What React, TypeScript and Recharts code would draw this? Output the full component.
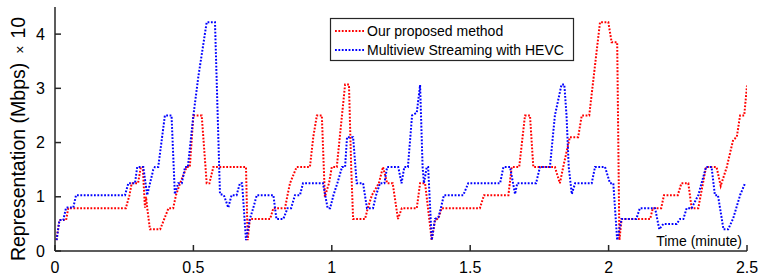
import React from "react";
import { Line, LineChart, XAxis, YAxis } from "recharts";

const timeTicks = [0, 0.5, 1, 1.5, 2, 2.5];
const rateTicks = [0, 1, 2, 3, 4];

const seriesNames = ["Our proposed method", "Multiview Streaming with HEVC"];
const seriesColors = ["#ff0000", "#0000ff"];

// [minute, representation] corner points
const proposedPoints: [number, number][] = [
  [0.005, 0.2], [0.016, 0.57], [0.04, 0.57], [0.048, 0.79], [0.256, 0.79],
  [0.269, 1.03], [0.277, 1.25], [0.3, 1.25], [0.31, 1.55], [0.317, 1.55],
  [0.325, 0.8], [0.329, 1.0], [0.333, 0.8], [0.343, 0.4], [0.38, 0.4],
  [0.41, 0.79], [0.427, 0.79], [0.437, 1.03], [0.452, 1.25], [0.476, 1.55],
  [0.487, 1.55], [0.5, 2.5], [0.53, 2.5], [0.548, 1.25], [0.558, 1.25],
  [0.572, 1.55], [0.69, 1.55], [0.696, 0.2], [0.704, 0.59], [0.777, 0.59],
  [0.789, 0.79], [0.831, 0.79], [0.84, 1.03], [0.849, 1.25], [0.873, 1.55],
  [0.921, 1.55], [0.933, 2.1], [0.946, 2.5], [0.964, 2.5], [0.975, 1.0],
  [0.99, 1.25], [1.0, 1.55], [1.018, 1.55], [1.048, 3.07], [1.062, 3.07],
  [1.07, 1.55], [1.077, 0.59], [1.12, 0.59], [1.13, 0.79], [1.145, 1.03],
  [1.17, 1.25], [1.185, 1.55], [1.2, 1.25], [1.22, 1.25], [1.239, 0.59],
  [1.253, 0.79], [1.307, 0.79], [1.319, 1.25], [1.337, 1.25], [1.361, 0.2],
  [1.373, 0.57], [1.385, 0.6], [1.397, 0.79], [1.535, 0.79], [1.55, 1.03],
  [1.638, 1.03], [1.65, 1.55], [1.677, 1.55], [1.698, 2.5], [1.716, 2.5],
  [1.728, 1.55], [1.806, 1.55], [1.824, 1.25], [1.836, 1.55], [1.86, 2.1],
  [1.89, 2.1], [1.903, 2.5], [1.93, 2.5], [1.969, 4.22], [1.999, 4.22],
  [2.011, 3.85], [2.031, 3.85], [2.039, 0.2], [2.047, 0.59], [2.15, 0.59],
  [2.16, 0.79], [2.19, 0.79], [2.2, 1.03], [2.25, 1.03], [2.263, 1.25],
  [2.288, 1.25], [2.3, 0.79], [2.324, 0.79], [2.352, 1.55], [2.39, 1.55],
  [2.405, 1.2], [2.427, 1.55], [2.45, 2.05], [2.463, 2.1], [2.475, 2.5],
  [2.49, 2.5], [2.5, 3.05],
];

const hevcPoints: [number, number][] = [
  [0.006, 0.2], [0.016, 0.57], [0.03, 0.57], [0.04, 0.8], [0.066, 0.8],
  [0.076, 1.03], [0.253, 1.03], [0.265, 1.25], [0.289, 1.25], [0.297, 1.55],
  [0.319, 1.55], [0.333, 1.03], [0.355, 1.5], [0.361, 1.55], [0.373, 1.55],
  [0.397, 2.5], [0.421, 2.5], [0.433, 1.05], [0.445, 1.25], [0.458, 1.25],
  [0.47, 1.55], [0.48, 1.55], [0.5, 2.5], [0.518, 3.22], [0.548, 4.22],
  [0.578, 4.22], [0.596, 1.05], [0.61, 1.03], [0.626, 0.8], [0.638, 1.03],
  [0.656, 1.03], [0.668, 1.25], [0.676, 1.25], [0.69, 0.2], [0.704, 0.59],
  [0.716, 0.79], [0.729, 1.03], [0.789, 1.03], [0.8, 0.59], [0.825, 0.59],
  [0.84, 0.79], [0.853, 0.79], [0.867, 1.03], [0.885, 1.03], [0.896, 1.25],
  [0.968, 1.25], [0.985, 0.79], [0.994, 0.79], [1.006, 1.03], [1.02, 1.25],
  [1.037, 1.55], [1.048, 1.55], [1.055, 2.1], [1.077, 2.1], [1.09, 1.25],
  [1.113, 1.25], [1.127, 0.79], [1.149, 0.79], [1.16, 1.03], [1.174, 1.25],
  [1.19, 1.25], [1.2, 1.55], [1.24, 1.55], [1.252, 1.25], [1.262, 1.55],
  [1.275, 1.55], [1.29, 2.5], [1.307, 2.55], [1.319, 3.06], [1.328, 1.55],
  [1.333, 1.25], [1.343, 1.55], [1.348, 1.55], [1.361, 0.2], [1.373, 0.59],
  [1.385, 0.62], [1.394, 0.79], [1.405, 1.03], [1.475, 1.03], [1.493, 1.25],
  [1.608, 1.25], [1.62, 1.55], [1.644, 1.55], [1.662, 1.05], [1.67, 1.25],
  [1.738, 1.25], [1.752, 1.55], [1.788, 1.55], [1.806, 2.5], [1.83, 3.07],
  [1.84, 3.07], [1.848, 2.5], [1.856, 1.55], [1.867, 1.05], [1.879, 1.25],
  [1.939, 1.25], [1.951, 1.55], [1.987, 1.55], [2.005, 1.25], [2.017, 1.25],
  [2.031, 0.2], [2.047, 0.59], [2.1, 0.59], [2.113, 0.79], [2.168, 0.79],
  [2.183, 0.4], [2.198, 0.5], [2.246, 0.5], [2.258, 0.59], [2.27, 0.59],
  [2.282, 0.79], [2.3, 0.79], [2.324, 1.03], [2.352, 1.55], [2.372, 1.55],
  [2.384, 1.03], [2.395, 1.03], [2.415, 0.4], [2.432, 0.4], [2.45, 0.6],
  [2.475, 1.03], [2.493, 1.25],
];

const FONT = '"Liberation Sans", Arial, Helvetica, sans-serif';
const AXIS = "#262626";
const DOTS = "1.8 1.6";

interface Row {
  t: number;
  ours?: number;
  hevc?: number;
}

// merge both traces into one table keyed by time
const buildRows = (): Row[] => {
  const rows = new Map<number, Row>();
  proposedPoints.forEach(([t, v]) => {
    const r = rows.get(t) ?? { t };
    r.ours = v;
    rows.set(t, r);
  });
  hevcPoints.forEach(([t, v]) => {
    const r = rows.get(t) ?? { t };
    r.hevc = v;
    rows.set(t, r);
  });
  return [...rows.values()].sort((a, b) => a.t - b.t);
};

const rows = buildRows();

const App: React.FC = () => {
  return (
    <div
      style={{
        position: "absolute",
        left: 0,
        top: 0,
        width: 762,
        height: 280,
        background: "#fff",
      }}
    >
      <LineChart
        width={762}
        height={280}
        data={rows}
        margin={{ top: 7, right: 15, bottom: 0, left: 10 }}
      >
        <XAxis
          xAxisId="bottom"
          type="number"
          dataKey="t"
          domain={[0, 2.5]}
          ticks={timeTicks}
          interval={0}
          height={29}
          tickSize={-6}
          tickMargin={17}
          stroke={AXIS}
          strokeWidth={1.5}
          tick={{ fill: "#000", fontSize: 16, fontFamily: FONT }}
          allowDataOverflow
        />
        <XAxis
          xAxisId="top"
          orientation="top"
          type="number"
          dataKey="t"
          domain={[0, 2.5]}
          ticks={timeTicks}
          interval={0}
          height={0}
          tickSize={-6}
          tick={false}
          stroke={AXIS}
          strokeWidth={1.5}
          allowDataOverflow
        />
        <YAxis
          yAxisId="left"
          type="number"
          domain={[0, 4.5]}
          ticks={rateTicks}
          interval={0}
          width={45}
          tickSize={-6}
          tickMargin={16}
          stroke={AXIS}
          strokeWidth={1.5}
          tick={{ fill: "#000", fontSize: 16, fontFamily: FONT }}
          allowDataOverflow
        />
        <YAxis
          yAxisId="right"
          orientation="right"
          type="number"
          domain={[0, 4.5]}
          ticks={rateTicks}
          interval={0}
          width={0}
          tickSize={-6}
          tick={false}
          stroke={AXIS}
          strokeWidth={1.5}
          allowDataOverflow
        />
        <Line
          xAxisId="bottom"
          yAxisId="left"
          type="linear"
          dataKey="ours"
          name={seriesNames[0]}
          stroke={seriesColors[0]}
          strokeWidth={2}
          strokeDasharray={DOTS}
          dot={false}
          connectNulls
          isAnimationActive={false}
        />
        <Line
          xAxisId="bottom"
          yAxisId="left"
          type="linear"
          dataKey="hevc"
          name={seriesNames[1]}
          stroke={seriesColors[1]}
          strokeWidth={2}
          strokeDasharray={DOTS}
          dot={false}
          connectNulls
          isAnimationActive={false}
        />
      </LineChart>

      {/* labels + legend on top of the plot */}
      <svg
        width={762}
        height={280}
        style={{ position: "absolute", left: 0, top: 0, pointerEvents: "none" }}
        fontFamily={FONT}
      >
        <text
          transform="translate(25,139) rotate(-90)"
          textAnchor="middle"
          fontSize={19.5}
          fill="#000"
        >
          Representation (Mbps)
          <tspan fontSize={14} dx={9}>
            ×
          </tspan>
          <tspan dx={7}>10</tspan>
        </text>

        <text x={742} y={246} textAnchor="end" fontSize={14} fill="#000">
          Time (minute)
        </text>

        {/* legend */}
        <rect
          x={330.5}
          y={18.5}
          width={243}
          height={42}
          fill="#fff"
          stroke={AXIS}
          strokeWidth={1.2}
        />
        {seriesNames.map((name, i) => (
          <g key={name}>
            <line
              x1={335}
              x2={364}
              y1={31 + i * 19}
              y2={31 + i * 19}
              stroke={seriesColors[i]}
              strokeWidth={2}
              strokeDasharray={DOTS}
            />
            <text x={367} y={36 + i * 19} fontSize={14} fill="#000">
              {name}
            </text>
          </g>
        ))}
      </svg>
    </div>
  );
};

export default App;
